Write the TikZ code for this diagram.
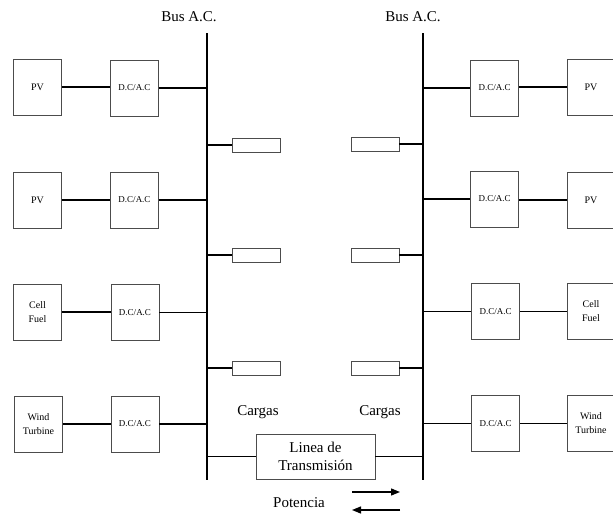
\documentclass[tikz,border=0pt]{standalone}
\usepackage{fontspec}
\setmainfont{Liberation Serif}
\usetikzlibrary{arrows.meta}
\begin{document}
\begin{tikzpicture}[x=1pt,y=-1pt,
  src/.style={draw=black!70,line width=0.9pt,minimum width=48pt,minimum height=56pt,inner sep=0pt,font=\fontsize{10}{14}\selectfont,align=center},
  conv/.style={draw=black!70,line width=0.9pt,minimum width=48pt,minimum height=56pt,inner sep=0pt,font=\fontsize{9}{10}\selectfont},
  load/.style={draw=black!70,line width=0.8pt,minimum width=48pt,minimum height=14pt,inner sep=0pt},
  wire/.style={line width=1.3pt},
  bus/.style={line width=1.6pt},
  lbl/.style={font=\fontsize{15}{17}\selectfont}]
\useasboundingbox (0,0) rectangle (613,514);
% buses
\coordinate (bLt) at (207,33); \coordinate (bLb) at (207,480);
\coordinate (bRt) at (423,33); \coordinate (bRb) at (423,480);
\draw[bus] (bLt) -- (bLb);
\draw[bus] (bRt) -- (bRb);
\node[lbl] (busL) at (189,17) {Bus A.C.};
\node[lbl] (busR) at (413,17) {Bus A.C.};
% left sources
\node[src] (sL1) at (37.5,87) {PV};
\node[src] (sL2) at (37.5,200) {PV};
\node[src] (sL3) at (37.5,312) {Cell\\Fuel};
\node[src] (sL4) at (38.5,424) {Wind\\Turbine};
\node[conv] (cL1) at (134.5,88) {D.C/A.C};
\node[conv] (cL2) at (134.5,200) {D.C/A.C};
\node[conv] (cL3) at (135,312.5) {D.C/A.C};
\node[conv] (cL4) at (135,424) {D.C/A.C};
% right sources
\node[conv] (cR1) at (494.5,88) {D.C/A.C};
\node[conv] (cR2) at (494.5,199) {D.C/A.C};
\node[conv] (cR3) at (495.5,311.5) {D.C/A.C};
\node[conv] (cR4) at (495.5,423.5) {D.C/A.C};
\node[src] (sR1) at (591,87) {PV};
\node[src] (sR2) at (591,200) {PV};
\node[src] (sR3) at (591,311.5) {Cell\\Fuel};
\node[src] (sR4) at (591,423.5) {Wind\\Turbine};
\foreach \i in {1,...,4}{
  \draw[wire] (sL\i.east) -- (sL\i.east -| cL\i.west);
  \draw[wire] (cL\i.east) -- (cL\i.east -| bLt);
  \draw[wire] (sR\i.west) -- (sR\i.west -| cR\i.east);
  \draw[wire] (cR\i.west) -- (cR\i.west -| bRt);
}
% loads
\node[load] (lL1) at (256,145) {};
\node[load] (lL2) at (256,255) {};
\node[load] (lL3) at (256,368) {};
\node[load] (lR1) at (375,144) {};
\node[load] (lR2) at (375,255) {};
\node[load] (lR3) at (375,368) {};
\foreach \i in {1,2,3}{
  \draw[wire] (lL\i.west) -- (lL\i.west -| bLt);
  \draw[wire] (lR\i.east) -- (lR\i.east -| bRt);
}
\node[lbl] (cgL) at (258,412) {Cargas};
\node[lbl] (cgR) at (380,412) {Cargas};
% transmission line
\node[draw=black!70,line width=0.9pt,minimum width=119pt,minimum height=45pt,inner sep=0pt,align=center,font=\fontsize{15}{18}\selectfont] (tl) at (315.5,456.5) {Linea de\\Transmisión};
\draw[wire] (tl.west) -- (tl.west -| bLt);
\draw[wire] (tl.east) -- (tl.east -| bRt);
% power
\node[font=\fontsize{15}{17}\selectfont] (pot) at (299,503) {Potencia};
\coordinate (a1s) at (352,492); \coordinate (a1e) at (400,492);
\coordinate (a2s) at (400,510); \coordinate (a2e) at (352,510);
\draw[line width=1.3pt,-{Triangle[length=9pt,width=7pt]}] (a1s) -- (a1e);
\draw[line width=1.3pt,-{Triangle[length=9pt,width=7pt]}] (a2s) -- (a2e);
\end{tikzpicture}
\end{document}
